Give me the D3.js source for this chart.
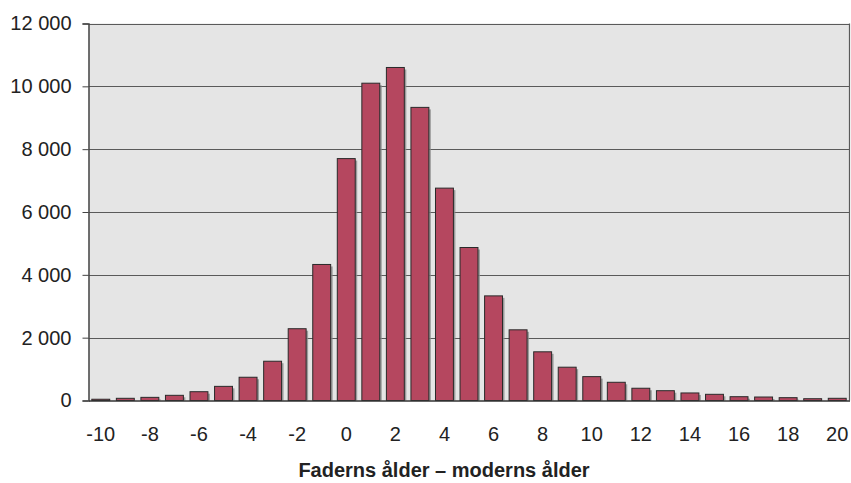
<!DOCTYPE html>
<html><head><meta charset="utf-8">
<script src="https://cdn.jsdelivr.net/npm/d3@7"></script>
<style>body{margin:0;background:#fff}text{font-family:"Liberation Sans",Arial,sans-serif}</style>
</head><body><svg id="c" width="851" height="483"></svg>
<script>
const categories = d3.range(-10, 21);
const values = [40,70,100,165,280,450,740,1250,2285,4330,7700,10100,10600,9330,6760,4870,3330,2250,1550,1060,760,580,390,312,240,197,121,111,90,57,70];
const yTicks = [0,2000,4000,6000,8000,10000,12000];
const xTickLabels = categories.filter(d => d % 2 === 0);
const xTitle = "Faderns ålder – moderns ålder";

const svg = d3.select("#c");
const L = 88.5, R = 849.5, T = 23.5, B = 400.5;
const x = d3.scaleBand().domain(categories).range([L, R]).paddingInner(0.27).paddingOuter(0.135);
const y = d3.scaleLinear().domain([0, 12000]).range([B, T]);

svg.append("rect").attr("x", L).attr("y", T).attr("width", R - L).attr("height", B - T).attr("fill", "#e5e5e5");
svg.append("g").selectAll("line").data(yTicks.filter(d => d > 0)).join("line")
  .attr("x1", L).attr("x2", R).attr("y1", d => Math.round(y(d)) + 0.5).attr("y2", d => Math.round(y(d)) + 0.5)
  .attr("stroke", "#5a5a5a").attr("stroke-width", 1.2);
svg.append("line").attr("x1", R).attr("x2", R).attr("y1", T).attr("y2", B).attr("stroke", "#5a5a5a").attr("stroke-width", 1.2);

svg.append("g").selectAll("rect").data(values).join("rect")
  .attr("x", (d, i) => x(categories[i]) + 2).attr("y", d => y(d) + 2)
  .attr("width", x.bandwidth()).attr("height", d => Math.max(0, B - y(d) - 2))
  .attr("fill", "#8a8a8a").attr("opacity", 0.8);
svg.append("g").selectAll("rect").data(values).join("rect")
  .attr("x", (d, i) => x(categories[i])).attr("y", d => y(d))
  .attr("width", x.bandwidth()).attr("height", d => B - y(d))
  .attr("fill", "#b5475f").attr("stroke", "#2a2a2a").attr("stroke-width", 1);

const ya = svg.append("g").attr("transform", `translate(${L},0)`)
  .call(d3.axisLeft(y).tickValues(yTicks).tickSize(6).tickPadding(11)
    .tickFormat(d => d3.format(",")(d).replace(/,/g, " ")));
ya.select(".domain").attr("stroke", "#444").attr("stroke-width", 1.5);
ya.selectAll(".tick line").attr("stroke", "#444");
ya.selectAll("text").attr("font-size", 20).attr("fill", "#222");

const xa = svg.append("g").attr("transform", `translate(0,${B})`)
  .call(d3.axisBottom(x).tickValues(xTickLabels).tickSize(0).tickPadding(26));
xa.select(".domain").attr("stroke", "#333").attr("stroke-width", 1.5);
xa.selectAll("text").attr("font-size", 20).attr("fill", "#222");

svg.append("text").attr("x", 444).attr("y", 477).attr("text-anchor", "middle")
  .attr("font-size", 20).attr("font-weight", "bold").attr("fill", "#222").text(xTitle);
</script></body></html>
